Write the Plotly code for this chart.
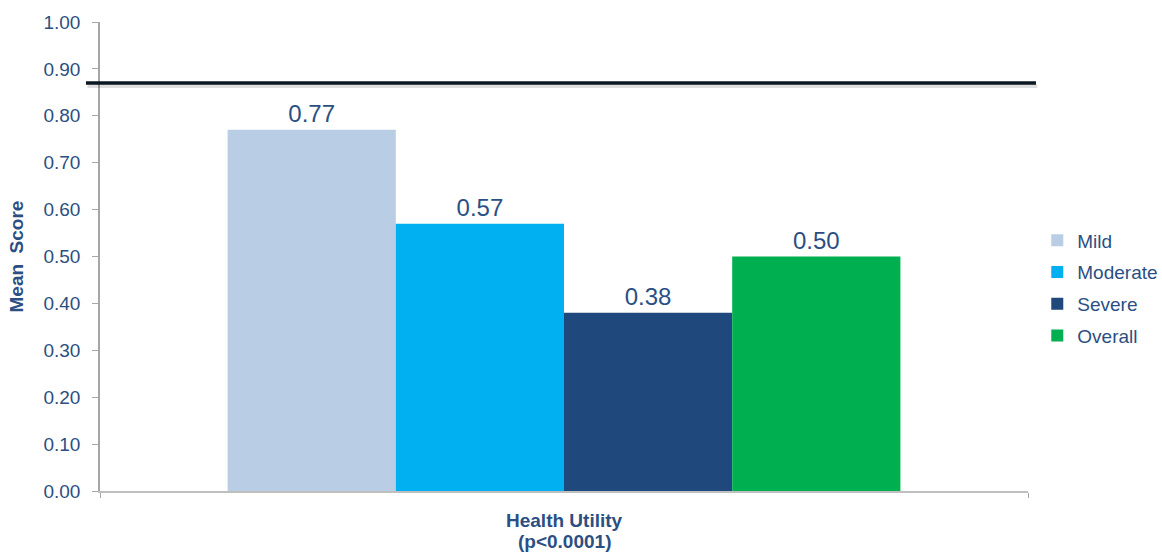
import plotly.graph_objects as go

categories = ["Health Utility"]
x_title_lines = ["Health Utility", "(p<0.0001)"]
y_title = "Mean  Score"
series_names = ["Mild", "Moderate", "Severe", "Overall"]
series_values = [0.77, 0.57, 0.38, 0.50]
series_colors = ["#B9CDE5", "#00B0F0", "#1F497D", "#00B050"]
reference_value = 0.87
y_ticks = [0.0, 0.1, 0.2, 0.3, 0.4, 0.5, 0.6, 0.7, 0.8, 0.9, 1.0]

text_color = "#2B4F82"
font_family = "Liberation Sans, Arial, sans-serif"

fig = go.Figure()
for name, val, col in zip(series_names, series_values, series_colors):
    fig.add_trace(go.Bar(
        x=[categories[0]], y=[val], name=name, legendgroup=name,
        marker=dict(color=col, line=dict(width=0)),
        text=[f"{val:.2f}"], textposition="outside",
        textfont=dict(size=24, color=text_color, family=font_family),
        cliponaxis=False,
    ))

# shadow + reference line
fig.add_shape(type="line", xref="paper", yref="y",
              x0=-0.0135, x1=1.0100, y0=reference_value - 0.0065, y1=reference_value - 0.0065,
              line=dict(color="rgba(0,0,0,0.13)", width=4), layer="above")
fig.add_shape(type="line", xref="paper", yref="y",
              x0=-0.0151, x1=1.0086, y0=reference_value, y1=reference_value,
              line=dict(color="#0B1720", width=3.5), layer="above")

# axis titles as annotations for exact placement
fig.add_annotation(text=f"<b>{x_title_lines[0]}</b>", xref="paper", yref="paper",
                   x=0.5, y=(554 - 63 - 520) / 469, xanchor="center", yanchor="middle",
                   showarrow=False, font=dict(size=19, color=text_color, family=font_family))
fig.add_annotation(text=f"<b>{x_title_lines[1]}</b>", xref="paper", yref="paper",
                   x=0.5, y=(554 - 63 - 541) / 469, xanchor="center", yanchor="middle",
                   showarrow=False, font=dict(size=19, color=text_color, family=font_family))
fig.add_annotation(text=f"<b>{y_title}</b>", xref="paper", yref="paper",
                   x=(16 - 100) / 928, y=0.5, xanchor="center", yanchor="middle",
                   textangle=-90, showarrow=False,
                   font=dict(size=19, color=text_color, family=font_family))

fig.update_layout(
    width=1162, height=554,
    margin=dict(l=100, r=134, t=22, b=63, autoexpand=False),
    paper_bgcolor="white", plot_bgcolor="white",
    barmode="group", bargap=0.275, bargroupgap=0,
    font=dict(family=font_family, color=text_color),
    showlegend=True,
    legend=dict(x=1.010, y=(491 - 288) / 469, xanchor="left", yanchor="middle",
                font=dict(size=19, color=text_color, family=font_family),
                tracegroupgap=4, itemwidth=30, bgcolor="rgba(0,0,0,0)"),
    yaxis=dict(range=[0, 1.0], tickvals=y_ticks, tickformat=".2f",
               showgrid=False, zeroline=False, automargin=False,
               showline=True, linecolor="#A6A6A6", linewidth=1.5,
               ticks="outside", ticklen=6, tickcolor="#A6A6A6",
               ticklabelstandoff=8,
               tickfont=dict(size=19, color=text_color, family=font_family)),
    xaxis=dict(showgrid=False, zeroline=False, showticklabels=False, automargin=False,
               showline=True, linecolor="#BFBFBF", linewidth=2,
               ticks="outside", tickson="boundaries", ticklen=5, tickcolor="#A6A6A6"),
)

fig.write_html("out.html",
               config={"displayModeBar": False},
               post_script="document.body.style.margin='0';document.body.style.overflow='hidden';")
